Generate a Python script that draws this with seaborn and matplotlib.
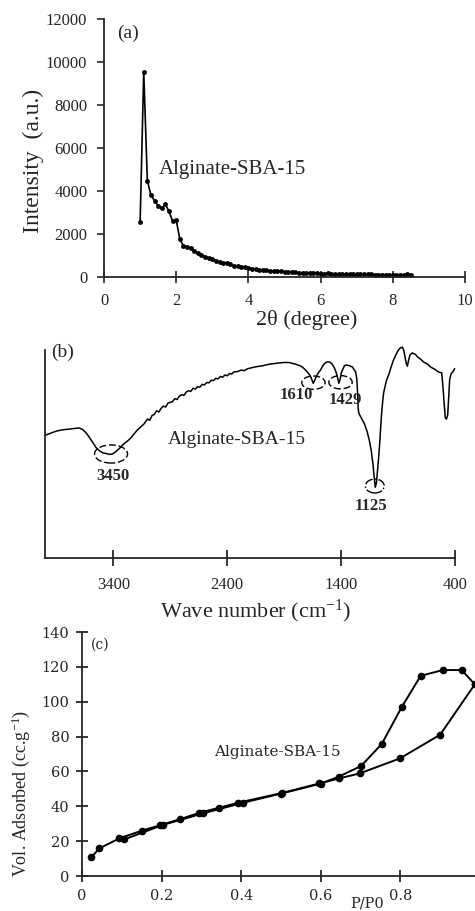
import matplotlib
matplotlib.use("Agg")
import matplotlib.pyplot as plt
from matplotlib.patches import Ellipse
import seaborn as sns

sns.set_theme(style="ticks")
plt.rcParams['font.family'] = ['Liberation Serif', 'DejaVu Serif']
plt.rcParams['mathtext.fontset'] = 'custom'
plt.rcParams['mathtext.rm'] = 'Liberation Serif'
plt.rcParams['mathtext.it'] = 'Liberation Serif:italic'
plt.rcParams['axes.linewidth'] = 1.3

# -------------------------------
# Data
# -------------------------------

# (a) low-angle XRD
xrd_theta = [1.0, 1.1, 1.2, 1.3, 1.4, 1.5, 1.6, 1.7, 1.8, 1.9,
             2.0, 2.1, 2.2, 2.3, 2.4, 2.5, 2.6, 2.7, 2.8, 2.9,
             3.0, 3.1, 3.2, 3.3, 3.4, 3.5, 3.6, 3.7, 3.8, 3.9,
             4.0, 4.1, 4.2, 4.3, 4.4, 4.5, 4.6, 4.7, 4.8, 4.9,
             5.0, 5.1, 5.2, 5.3, 5.4, 5.5, 5.6, 5.7, 5.8, 5.9,
             6.0, 6.1, 6.2, 6.3, 6.4, 6.5, 6.6, 6.7, 6.8, 6.9,
             7.0, 7.1, 7.2, 7.3, 7.4, 7.5, 7.6, 7.7, 7.8, 7.9,
             8.0, 8.1, 8.2, 8.3, 8.4, 8.5]
xrd_intensity = [2550, 9550, 4480, 3800, 3550, 3300, 3200, 3380, 3050, 2600,
                 2650, 1750, 1450, 1400, 1350, 1200, 1120, 1030, 950, 880,
                 830, 760, 700, 660, 640, 580, 520, 500, 470, 450,
                 420, 390, 360, 340, 320, 300, 280, 260, 270, 280,
                 240, 220, 215, 210, 200, 195, 185, 180, 175, 170,
                 160, 155, 165, 150, 145, 140, 140, 135, 130, 130,
                 125, 120, 120, 115, 115, 110, 110, 105, 110, 105,
                 100, 100, 95, 100, 120, 110]

# (b) FTIR
ir_wavenumber = [4000, 3950, 3900, 3860, 3820, 3780, 3740, 3700, 3670, 3640,
                 3610, 3580, 3550, 3520, 3490, 3460, 3430, 3410, 3390, 3370,
                 3340, 3310, 3280, 3250, 3220, 3190, 3160, 3130, 3100, 3080,
                 3060, 3040, 3020, 3000, 2980, 2960, 2940, 2920, 2900, 2880,
                 2860, 2840, 2820, 2800, 2780, 2760, 2740, 2720, 2700, 2680,
                 2660, 2640, 2620, 2600, 2580, 2560, 2540, 2520, 2500, 2480,
                 2460, 2440, 2420, 2400, 2380, 2360, 2340, 2310, 2280, 2250,
                 2220, 2190, 2160, 2130, 2100, 2060, 2020, 1980, 1940, 1900,
                 1860, 1820, 1790, 1760, 1740, 1715, 1690, 1670, 1655, 1645,
                 1635, 1620, 1600, 1580, 1560, 1540, 1520, 1500, 1480, 1460,
                 1445, 1432, 1420, 1410, 1398, 1388, 1370, 1355, 1330, 1300,
                 1285, 1272, 1262, 1256, 1250, 1244, 1220, 1195, 1170, 1150,
                 1135, 1120, 1110, 1100, 1090, 1080, 1070, 1060, 1050, 1040,
                 1027, 1010, 1000, 980, 960, 940, 920, 900, 880, 862,
                 848, 838, 828, 818, 808, 795, 775, 745, 728, 700,
                 675, 640, 614, 580, 544, 517, 505, 495, 485, 475,
                 464, 455, 447, 435, 421, 403]
ir_transmittance = [59.0, 60.0, 61.0, 61.5, 61.8, 62.0, 62.3, 62.5, 61.8, 60.2,
                    58.0, 55.5, 53.0, 51.5, 50.5, 50.2, 49.8, 50.0, 50.6, 51.5,
                    53.0, 54.8, 56.0, 57.5, 59.5, 61.5, 63.0, 64.5, 66.8, 66.2,
                    68.5, 69.0, 70.8, 70.2, 72.0, 73.0, 72.6, 74.5, 74.8, 75.2,
                    76.6, 76.2, 77.8, 78.5, 78.2, 79.8, 80.4, 80.1, 81.6, 81.2,
                    82.4, 82.1, 83.5, 83.2, 84.4, 84.2, 85.5, 85.3, 86.4, 86.1,
                    87.3, 86.9, 88.0, 87.6, 88.7, 88.5, 89.5, 89.6, 90.3, 90.1,
                    91.0, 91.4, 91.8, 92.1, 92.3, 92.8, 93.3, 93.5, 93.8, 94.0,
                    94.0, 93.5, 93.0, 92.4, 91.8, 90.5, 89.0, 87.5, 85.5, 84.0,
                    85.0, 87.0, 89.0, 90.4, 92.5, 93.8, 94.3, 94.2, 93.3, 91.5,
                    89.5, 87.0, 84.0, 85.5, 89.0, 90.4, 92.5, 92.8, 92.5, 91.8,
                    90.5, 89.4, 86.0, 80.0, 72.0, 69.5, 67.0, 64.5, 60.5, 56.0,
                    51.5, 45.0, 39.0, 34.0, 36.0, 42.0, 48.5, 56.0, 65.0, 72.5,
                    79.3, 83.5, 85.6, 88.5, 92.0, 95.2, 97.5, 99.8, 101.0, 101.4,
                    99.5, 96.5, 93.5, 92.2, 95.0, 97.6, 98.6, 97.8, 96.6, 95.5,
                    94.2, 93.2, 91.8, 90.8, 89.4, 89.0, 82.0, 74.0, 67.3, 66.8,
                    68.8, 78.0, 85.6, 88.5, 89.4, 91.0]
ir_peaks = ["3450", "1610", "1429", "1125"]

# (c) N2 isotherm
ads_p = [0.023, 0.044, 0.094, 0.150, 0.196, 0.246, 0.295, 0.345, 0.393,
         0.502, 0.596, 0.646, 0.698, 0.799, 0.900, 0.987]
ads_v = [10.7, 15.9, 21.6, 26.0, 29.1, 32.6, 36.3, 39.2, 42.1,
         47.6, 53.1, 56.0, 58.9, 67.5, 81.1, 110.0]
des_p = [0.987, 0.954, 0.907, 0.851, 0.803, 0.753, 0.701, 0.645,
         0.600, 0.500, 0.404, 0.305, 0.204, 0.106]
des_v = [110.0, 118.2, 118.2, 114.9, 96.8, 75.7, 63.1, 57.0,
         53.0, 47.3, 42.0, 36.0, 29.4, 21.0]

sample = "Alginate-SBA-15"

fig = plt.figure(figsize=(4.75, 9.11), dpi=100)

# -------------------------------
# (a) XRD
# -------------------------------

ax_a = fig.add_axes([0.219, 0.696, 0.76, 0.283])
sns.lineplot(x=xrd_theta, y=xrd_intensity, ax=ax_a, color="black", lw=1.2,
             marker="o", markersize=3.5, markeredgewidth=0, estimator=None)
ax_a.set_xlim(0, 10)
ax_a.set_ylim(0, 12000)
ax_a.set_xticks([0, 2, 4, 6, 8, 10])
ax_a.set_yticks(range(0, 12001, 2000))
ax_a.tick_params(axis="y", direction="out", length=5, width=1.2, labelsize=12, pad=7)
ax_a.tick_params(axis="x", direction="inout", length=9, width=1.2, labelsize=12, pad=7)
ax_a.set_xlabel("2θ (degree)", fontsize=16)
ax_a.xaxis.set_label_coords(0.562, -0.128)
ax_a.set_ylabel("Intensity  (a.u.)", fontsize=17)
ax_a.yaxis.set_label_coords(-0.165, 0.45)
ax_a.text(0.67, 11350, "(a)", fontsize=14, ha="center", va="center")
ax_a.text(3.55, 4980, sample, fontsize=15, ha="center", va="center")
sns.despine(ax=ax_a)

# -------------------------------
# (b) FTIR
# -------------------------------

ax_b = fig.add_axes([0.0947, 0.3875, 0.8632, 0.2283])
sns.lineplot(x=ir_wavenumber, y=ir_transmittance, ax=ax_b, color="black",
             lw=1.1, estimator=None, sort=False, clip_on=False)
ax_b.set_xlim(4000, 400)
ax_b.set_ylim(0, 100)
ax_b.set_xticks([3400, 2400, 1400, 400])
ax_b.set_yticks([])
ax_b.tick_params(axis="x", direction="inout", length=11, width=1.3, labelsize=12, pad=8)
ax_b.set_xlabel("Wave number (cm$^{-1}$)", fontsize=16)
ax_b.xaxis.set_label_coords(0.515, -0.19)
ax_b.set_ylabel("")

for cx, cy, w, h, ls in [(3420, 50.0, 290, 8.7, (0, (5, 2))),
                         (1643, 84.3, 205, 6.4, (0, (5, 2))),
                         (1405, 84.5, 205, 6.4, (0, (5, 2))),
                         (1104, 34.6, 165, 6.7, "-.")]:
    ax_b.add_patch(Ellipse((cx, cy), w, h, fill=False, ec="black", lw=1.0, ls=ls))

for label, lx, ly in zip(ir_peaks, [3399, 1795, 1361, 1142], [39.6, 78.4, 76.0, 25.0]):
    ax_b.text(lx, ly, label, fontsize=12, fontweight="bold", ha="center", va="center")

ax_b.text(3850, 99, "(b)", fontsize=14, ha="center", va="center")
ax_b.text(2320, 57, sample, fontsize=14, ha="center", va="center")
sns.despine(ax=ax_b)

# -------------------------------
# (c) isotherm
# -------------------------------

ax_c = fig.add_axes([0.1726, 0.0384, 0.8379, 0.2678])
sns.lineplot(x=ads_p, y=ads_v, ax=ax_c, color="black", lw=1.4,
             marker="o", markersize=5.5, markeredgewidth=0, estimator=None, clip_on=False)
sns.lineplot(x=des_p, y=des_v, ax=ax_c, color="black", lw=1.4,
             marker="o", markersize=5.5, markeredgewidth=0, estimator=None,
             sort=False, clip_on=False)
ax_c.set_xlim(0, 1)
ax_c.set_ylim(0, 140)
ax_c.set_xticks([0, 0.2, 0.4, 0.6, 0.8])
ax_c.set_xticklabels(["0", "0.2", "0.4", "0.6", "0.8"])
ax_c.set_yticks(range(0, 141, 20))
for lab in ax_c.get_xticklabels() + ax_c.get_yticklabels():
    lab.set_family("DejaVu Serif")
ax_c.tick_params(direction="inout", length=8, width=1.3, labelsize=10.5, pad=5)
ax_c.set_xlabel("P/P0", fontsize=10.5, family="DejaVu Serif")
ax_c.xaxis.set_label_coords(0.716, -0.083)
ax_c.set_ylabel("Vol. Adsorbed (cc.g$^{-1}$)", fontsize=13)
ax_c.yaxis.set_label_coords(-0.125, 0.34)
ax_c.text(0.045, 132.5, "(c)", fontsize=10, family="DejaVu Serif", ha="center", va="center")
ax_c.text(0.49, 71, sample, fontsize=11, family="DejaVu Serif", ha="center", va="center")
sns.despine(ax=ax_c)

fig.savefig("out.png", dpi=100)
plt.close(fig)
